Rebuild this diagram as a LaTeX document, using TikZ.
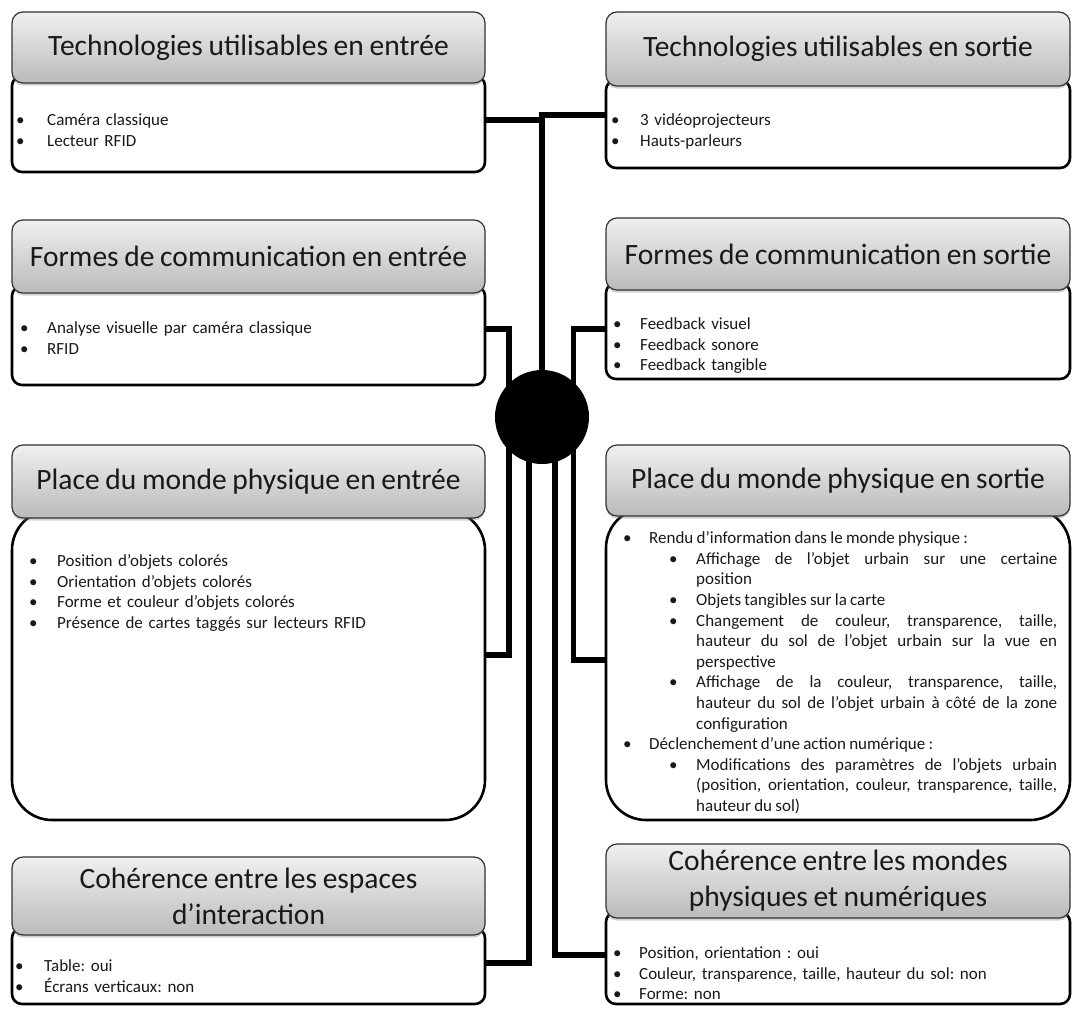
\documentclass[tikz,border=0pt]{standalone}
\usepackage{fontspec}
\setmainfont{Carlito}[WordSpace=0.85]
\usetikzlibrary{shadows,backgrounds}
\frenchspacing
\newcommand{\puce}[3]{\par\noindent\hangindent=\dimexpr#1+#2\relax\hangafter=1\hspace*{#1}\makebox[#2][l]{\textbullet}#3\par}

\begin{document}
\begin{tikzpicture}[x=1pt,y=-1pt,
    titre/.style={draw=black!80, line width=1.2pt, rounded corners=11pt,
      top color=black!6, bottom color=black!27,
      drop shadow={opacity=0.35, shadow xshift=0pt, shadow yshift=-2.5pt},
      anchor=north west, inner sep=0pt, outer sep=0pt, align=center,
      font=\fontsize{29.5}{36}\selectfont, text=black!90},
    corps/.style={draw, line width=2.6pt, rounded corners=10pt, fill=white,
      anchor=north west, inner sep=0pt, outer sep=0pt},
    liste/.style={anchor=base west, inner sep=0pt, align=left,
      font=\fontsize{17}{20.6}\selectfont\frenchspacing, text=black!90},
    lien/.style={line width=5.5pt, line join=miter,
      preaction={draw=black!25, transform canvas={xshift=1.5pt, yshift=-1.5pt}}}]
    \useasboundingbox (0,0) rectangle (1073,1009);
    \node[circle, fill=black, minimum size=94pt, inner sep=0pt, outer sep=0pt] (centre) at (542,417) {};

    \node[corps, minimum width=473pt, minimum height=96pt] (cE1) at (12,76) {};
    \node[titre, minimum width=473pt, minimum height=71pt] (tE1) at (12,12) {Technologies utilisables en entrée};
    \node[liste, text width=460pt] (lE1) at (16,105)
      {\puce{0pt}{31pt}{Caméra classique}\puce{0pt}{31pt}{Lecteur RFID}};

    \node[corps, minimum width=464pt, minimum height=88pt] (cS1) at (606,80) {};
    \node[titre, minimum width=464pt, minimum height=74pt] (tS1) at (606,12) {Technologies utilisables en sortie};
    \node[liste, text width=440pt] (lS1) at (611,105)
      {\puce{0pt}{29pt}{3 vidéoprojecteurs}\puce{0pt}{29pt}{Hauts-parleurs}};

    \node[corps, minimum width=473pt, minimum height=99pt] (cE2) at (12,286) {};
    \node[titre, minimum width=473pt, minimum height=73pt] (tE2) at (12,220) {Formes de communication en entrée};
    \node[liste, text width=450pt] (lE2) at (20,313)
      {\puce{0pt}{27pt}{Analyse visuelle par caméra classique}\puce{0pt}{27pt}{RFID}};

    \node[corps, minimum width=464pt, minimum height=96pt] (cS2) at (606,283) {};
    \node[titre, minimum width=464pt, minimum height=72pt] (tS2) at (606,218) {Formes de communication en sortie};
    \node[liste, text width=440pt] (lS2) at (613,309)
      {\puce{0pt}{27pt}{Feedback visuel}\puce{0pt}{27pt}{Feedback sonore}\puce{0pt}{27pt}{Feedback tangible}};

    \node[corps, rounded corners=40pt, minimum width=473pt, minimum height=310pt] (cE3) at (12,510) {};
    \node[titre, minimum width=473pt, minimum height=73pt] (tE3) at (12,445) {Place du monde physique en entrée};
    \node[liste, text width=440pt] (lE3) at (29,546)
      {\puce{0pt}{28pt}{Position d’objets colorés}\puce{0pt}{28pt}{Orientation d’objets colorés}%
       \puce{0pt}{28pt}{Forme et couleur d’objets colorés}\puce{0pt}{28pt}{Présence de cartes taggés sur lecteurs RFID}};

    \node[corps, rounded corners=40pt, minimum width=464pt, minimum height=312pt] (cS3) at (606,508) {};
    \node[titre, minimum width=464pt, minimum height=71pt] (tS3) at (606,445) {Place du monde physique en sortie};
    \node[liste, align=justify, text width=434pt] (lS3) at (623,523)
      {\puce{0pt}{26pt}{Rendu d’information dans le monde physique :}%
       \puce{46pt}{27pt}{Affichage de l’objet urbain sur une certaine\linebreak position}%
       \puce{46pt}{27pt}{Objets tangibles sur la carte}%
       \puce{46pt}{27pt}{Changement de couleur, transparence, taille,\linebreak hauteur du sol de l’objet urbain sur la vue en\linebreak perspective}%
       \puce{46pt}{27pt}{Affichage de la couleur, transparence, taille,\linebreak hauteur du sol de l’objet urbain à côté de la zone\linebreak configuration}%
       \puce{0pt}{26pt}{Déclenchement d’une action numérique :}%
       \puce{46pt}{27pt}{Modifications des paramètres de l’objets urbain\linebreak (position, orientation, couleur, transparence, taille,\linebreak hauteur du sol)}};

    \node[corps, minimum width=473pt, minimum height=76pt] (cE4) at (12,928) {};
    \node[titre, minimum width=473pt, minimum height=78pt] (tE4) at (12,857) {Cohérence entre les espaces\\d’interaction};
    \node[liste, text width=450pt] (lE4) at (15,951)
      {\puce{0pt}{29pt}{Table: oui}\puce{0pt}{29pt}{Écrans verticaux: non}};

    \node[corps, minimum width=464pt, minimum height=92pt] (cS4) at (606,912) {};
    \node[titre, minimum width=464pt, minimum height=74pt] (tS4) at (606,844) {Cohérence entre les mondes\\physiques et numériques};
    \node[liste, text width=440pt] (lS4) at (613,938)
      {\puce{0pt}{26pt}{Position, orientation : oui}\puce{0pt}{26pt}{Couleur, transparence, taille, hauteur du sol: non}%
       \puce{0pt}{26pt}{Forme: non}};

    \begin{pgfonlayer}{background}
      \draw[lien] (cE1.east |- 0,120) -| (centre);
      \draw[lien] (cS1.west |- 0,115) -| (centre);
      \draw[lien] (cE2.east |- 0,329) -| (centre.135 |- centre);
      \draw[lien] (cS2.west |- 0,329) -| (centre.48 |- centre);
      \draw[lien] (centre.225 |- centre) |- (cE3.east |- 0,655);
      \draw[lien] (centre.254 |- centre) |- (cE4.east |- 0,963);
      \draw[lien] (centre.286 |- centre) |- (cS4.west |- 0,955);
      \draw[lien] (centre.312 |- centre) |- (cS3.west |- 0,660);
    \end{pgfonlayer}
\end{tikzpicture}
\end{document}
